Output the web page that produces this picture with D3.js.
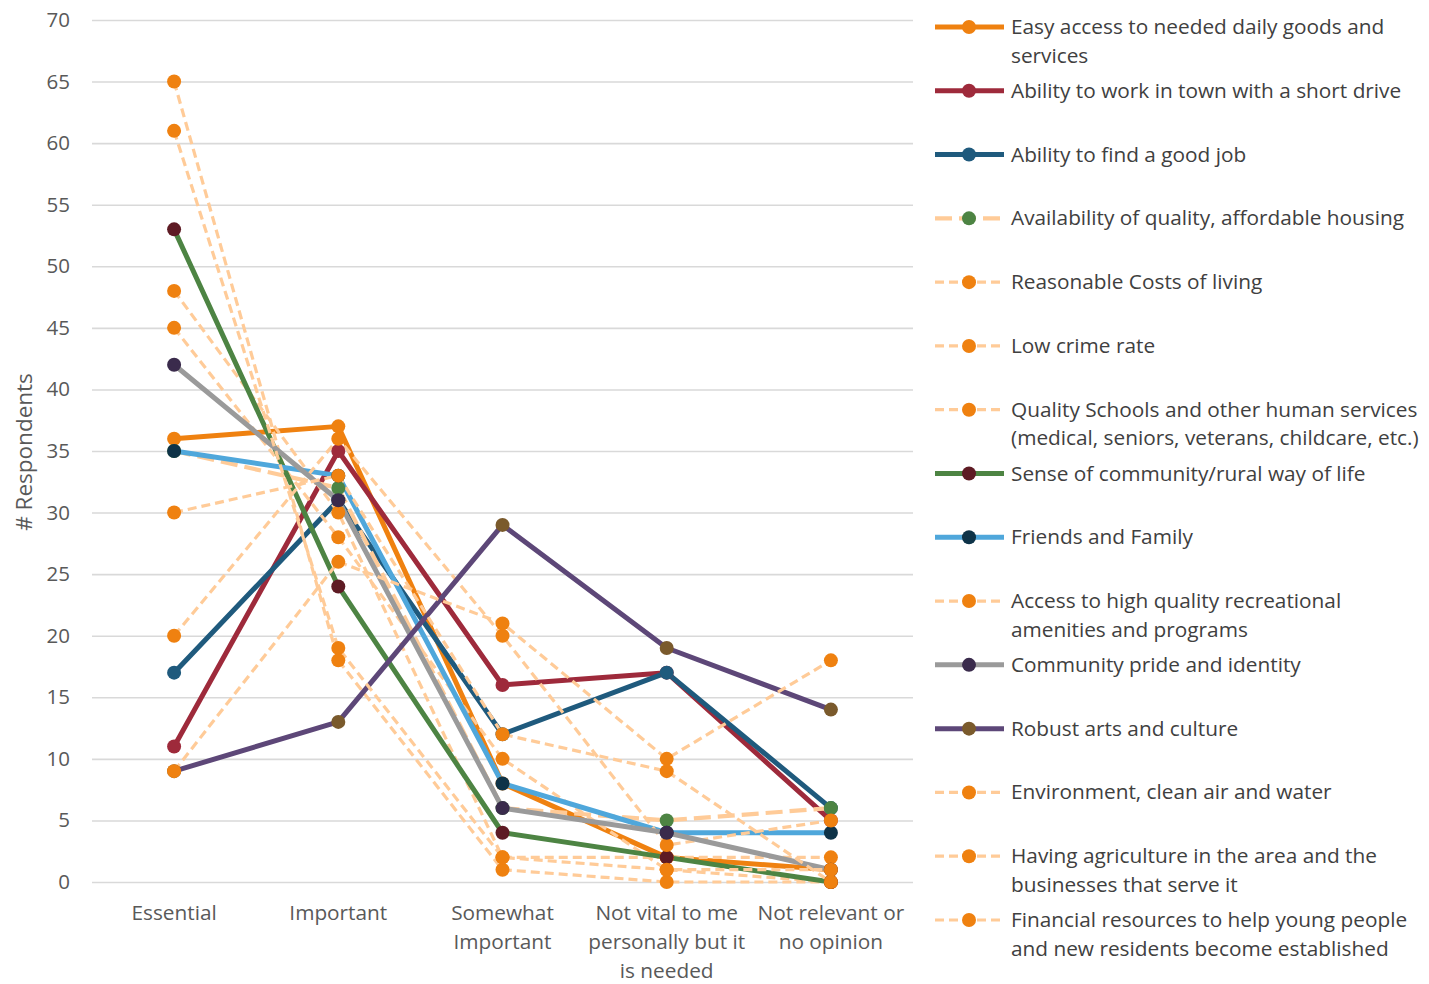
<!DOCTYPE html>
<html>
<head>
<meta charset="utf-8">
<script src="https://cdn.jsdelivr.net/npm/d3@7"></script>
<style>
  body { margin: 0; background: #fff; }
  svg { display: block; font-family: "Open Sans", Lato, sans-serif; }
</style>
</head>
<body>
<svg id="chart" width="1429" height="984"></svg>
<script>
// ---- data ----
const categories = ["Essential", "Important", "Somewhat Important",
  "Not vital to me personally but it is needed", "Not relevant or no opinion"];
const categoryLines = [["Essential"], ["Important"], ["Somewhat", "Important"],
  ["Not vital to me", "personally but it", "is needed"], ["Not relevant or", "no opinion"]];
const yTicks = [0, 5, 10, 15, 20, 25, 30, 35, 40, 45, 50, 55, 60, 65, 70];

const easyAccess      = [36, 37, 8, 2, 1];
const workShortDrive  = [11, 35, 16, 17, 5];
const goodJob         = [17, 31, 12, 17, 6];
const housing         = [35, 32, 6, 5, 6];
const costOfLiving    = [45, 28, 10, 1, 0];
const lowCrime        = [65, 18, 1, 0, 0];
const schools         = [48, 30, 2, 2, 2];
const senseCommunity  = [53, 24, 4, 2, 0];
const friendsFamily   = [35, 33, 8, 4, 4];
const recreation      = [20, 36, 20, 3, 5];
const communityPride  = [42, 31, 6, 4, 1];
const artsCulture     = [9, 13, 29, 19, 14];
const environment     = [61, 19, 2, 1, 1];
const agriculture     = [9, 26, 21, 10, 18];
const financialHelp   = [30, 33, 12, 9, 0];

const seriesLabels = [
  ["Easy access to needed daily goods and", "services"],
  ["Ability to work in town with a short drive"],
  ["Ability to find a good job"],
  ["Availability of quality, affordable housing"],
  ["Reasonable Costs of living"],
  ["Low crime rate"],
  ["Quality Schools and other human services", "(medical, seniors, veterans, childcare, etc.)"],
  ["Sense of community/rural way of life"],
  ["Friends and Family"],
  ["Access to high quality recreational", "amenities and programs"],
  ["Community pride and identity"],
  ["Robust arts and culture"],
  ["Environment, clean air and water"],
  ["Having agriculture in the area and the", "businesses that serve it"],
  ["Financial resources to help young people", "and new residents become established"]
];
const seriesValues = [easyAccess, workShortDrive, goodJob, housing, costOfLiving, lowCrime,
  schools, senseCommunity, friendsFamily, recreation, communityPride, artsCulture,
  environment, agriculture, financialHelp];

// ---- styles ----
const ORANGE = "#EF8110", PEACH = "#FFCB98";
const lineColors = ["#EF8110", "#9E2A3B", "#1F5A7D", PEACH, PEACH, PEACH, PEACH,
  "#4D8443", "#4FA7DB", PEACH, "#9A9A9A", "#5D4778", PEACH, PEACH, PEACH];
const markerColors = [ORANGE, "#9E2A3B", "#1F5A7D", "#4D8443", ORANGE, ORANGE, ORANGE,
  "#5E1B24", "#0E3348", ORANGE, "#3A2B4C", "#7A5A2C", ORANGE, ORANGE, ORANGE];
// "solid", "long" (long dash) or "short" (short dash)
const lineKinds = ["solid", "solid", "solid", "long", "short", "short", "short",
  "solid", "solid", "short", "solid", "solid", "short", "short", "short"];
const widthFor = k => k === "solid" ? 5 : (k === "long" ? 4.2 : 3.2);
const dashFor = k => k === "solid" ? null : (k === "long" ? "17,7" : "9,5");
const markerR = 7;

const series = seriesValues.map((vals, i) => ({
  label: seriesLabels[i], values: vals,
  line: lineColors[i], marker: markerColors[i], kind: lineKinds[i]
}));

// ---- layout ----
const svg = d3.select("#chart");
const plot = { left: 92, right: 913, top: 20, bottom: 882 };

const x = d3.scaleBand().domain(categories).range([plot.left, plot.right]).padding(0);
const cx = c => x(c) + x.bandwidth() / 2;
const y = d3.scaleLinear().domain([0, 70]).range([plot.bottom, plot.top]);

// gridlines + y tick labels
const yAxis = svg.append("g")
  .attr("transform", `translate(${plot.left},0)`)
  .call(d3.axisLeft(y).tickValues(yTicks).tickSize(-(plot.right - plot.left)).tickPadding(22));
yAxis.select(".domain").remove();
yAxis.selectAll(".tick line").attr("stroke", "#D9D9D9").attr("stroke-width", 1.6);
yAxis.selectAll(".tick text").attr("fill", "#595959").style("font-size", "20.5px")
  .style("font-family", "'Open Sans', Lato, sans-serif");

// y axis title
svg.append("text")
  .attr("transform", "translate(32,452) rotate(-90)")
  .attr("text-anchor", "middle")
  .attr("fill", "#595959")
  .style("font-size", "22.5px")
  .text("# Respondents");

// category labels
const xLab = svg.append("g");
categories.forEach((c, i) => {
  const t = xLab.append("text")
    .attr("x", cx(c)).attr("y", 920)
    .attr("text-anchor", "middle").attr("fill", "#595959").style("font-size", "20.8px");
  categoryLines[i].forEach((ln, j) => {
    t.append("tspan").attr("x", cx(c)).attr("dy", j === 0 ? 0 : 28.8).text(ln);
  });
});

// series lines
const lineGen = d3.line().x((d, i) => cx(categories[i])).y(d => y(d));
const linesG = svg.append("g");
series.forEach(s => {
  linesG.append("path")
    .datum(s.values)
    .attr("d", lineGen)
    .attr("fill", "none")
    .attr("stroke", s.line)
    .attr("stroke-width", widthFor(s.kind))
    .attr("stroke-linejoin", "round")
    .attr("stroke-dasharray", dashFor(s.kind));
});

// markers
const markersG = svg.append("g");
series.forEach(s => {
  markersG.append("g").selectAll("circle")
    .data(s.values)
    .join("circle")
    .attr("cx", (d, i) => cx(categories[i]))
    .attr("cy", d => y(d))
    .attr("r", markerR)
    .attr("fill", s.marker);
});

// legend
const legend = svg.append("g");
const legY = d3.scaleLinear().domain([0, 14]).range([27, 920]);
series.forEach((s, i) => {
  const ry = legY(i);
  const g = legend.append("g");
  g.append("line")
    .attr("x1", 935).attr("x2", 1004).attr("y1", ry).attr("y2", ry)
    .attr("stroke", s.line)
    .attr("stroke-width", widthFor(s.kind))
    .attr("stroke-dasharray", dashFor(s.kind));
  g.append("circle").attr("cx", 969).attr("cy", ry).attr("r", markerR).attr("fill", s.marker);
  const t = g.append("text").attr("x", 1011).attr("y", ry + 7)
    .attr("fill", "#404040").style("font-size", "20.8px");
  s.label.forEach((ln, j) => {
    t.append("tspan").attr("x", 1011).attr("dy", j === 0 ? 0 : 28.5).text(ln);
  });
});
</script>
</body>
</html>
